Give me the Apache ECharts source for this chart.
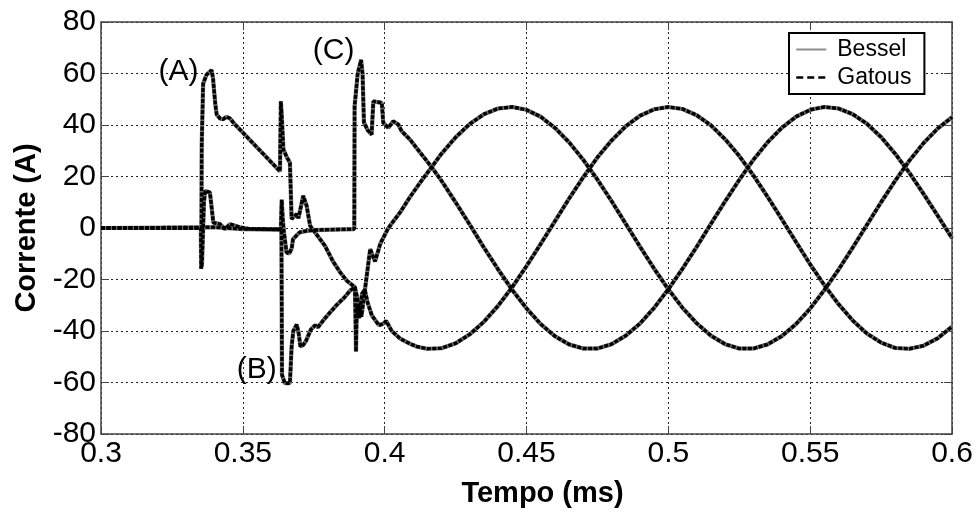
<!DOCTYPE html>
<html>
<head>
<meta charset="utf-8">
<script src="https://cdn.jsdelivr.net/npm/echarts@6/dist/echarts.min.js"></script>
<style>html,body{margin:0;padding:0;background:#fff}#c{width:979px;height:513px}</style>
</head>
<body>
<div id="c"></div>
<script>
// ---- tick labels ----
const xTickLabels = ['0.3','0.35','0.4','0.45','0.5','0.55','0.6'];
const yTickLabels = ['-80','-60','-40','-20','0','20','40','60','80'];

// ---- annotations [t, i, text] ----
const annotations = [[0.3273, 60.5, '(A)'], [0.3549, -54.9, '(B)'], [0.3820, 68.8, '(C)']];

// ---- transient part, phase A ----
const tA = [0.3000,0.3354,0.3355,0.3358,0.3360,0.3372,0.3390,0.3395,0.3403,0.3408,0.3420,0.3430,0.3443,0.3455,0.3470,
  0.3631,0.3634,0.3637,0.3643,0.3655,0.3666,0.3672,0.3690,0.3696,0.3713,0.3725,0.3737,0.3760,0.3790,0.3818,0.3845,0.3866,
  0.3895,0.3897,0.3899,0.3902,0.3910,0.3920,0.3930,0.3940,0.3955,0.3980,0.3998,0.4005,0.4025,0.4055,0.4090,0.4115,0.4150];
const iA = [0,0,31.7,32,56,59.5,61.3,58,48,44,42.5,42.2,43.2,42.5,40.5,
  22,49.2,44,30.5,27.5,25.4,3.5,5.4,3.8,12.5,8.6,0.9,-2.5,-7,-13,-17.5,-20.4,
  -23,-35,-48,-30,-35,-25.5,-24,-29,-34,-37.8,-37,-36,-40,-43,-45,-46.1,-46.9];

// ---- transient part, phase B ----
const tB = [0.3000,0.3400,0.3500,0.3636,0.3638,0.3648,0.3666,0.3672,0.3678,0.3690,0.3697,0.3703,0.3712,0.3722,0.3740,
  0.3755,0.3765,0.3790,0.3830,0.3858,0.3878,0.3895,0.3905,0.3918,0.3949,0.3966,0.3985,0.4011,0.4030,0.4054,0.4089,0.4124,0.4166];
const iB = [0,0.3,-0.4,-0.6,-57,-60.3,-60.3,-46,-40,-37.5,-41,-46,-45.5,-44,-39.4,
  -37.8,-38.5,-35,-30,-27,-24.3,-23,-28,-34.5,-8.2,-13,-6,-0.4,2.5,6,12,17.5,23.7];

// ---- transient part, phase C ----
const tC = [0.3000,0.3352,0.3353,0.3356,0.3363,0.3367,0.3384,0.3396,0.3420,0.3437,0.3455,0.3490,0.3520,0.3634,0.3637,
  0.3641,0.3645,0.3654,0.3663,0.3672,0.3677,0.3700,0.3720,0.3750,0.3893,0.3894,0.3905,0.3917,0.3922,0.3927,0.3940,
  0.3954,0.3960,0.3990,0.3995,0.4013,0.4030,0.4048,0.4060,0.4089,0.4125,0.4166];
const iC = [0,0,-15.8,-14,10,14.4,13.8,2.1,1.5,-0.4,1.5,0.3,-0.3,-0.5,11,
  3,-1.7,-9.4,-10,-8,-4.3,-1.7,-1.2,-0.8,-0.4,47.3,60,65.3,60,41,38,
  36.3,49.2,48.6,40.9,38.9,41.5,40.2,37.6,34.4,29.3,23.6];

// ---- steady state part ----
const tSteady = [0.420,0.425,0.430,0.435,0.440,0.445,0.450,0.455,0.460,0.465,0.470,0.475,0.480,0.485,0.490,0.495,
  0.500,0.505,0.510,0.515,0.520,0.525,0.530,0.535,0.540,0.545,0.550,0.555,0.560,0.565,0.570,0.575,0.580,0.585,0.590,0.595,0.600];
const aSteady = [-46.7,-44.8,-41.3,-36.4,-30.2,-22.9,-14.8,-6.2,2.6,11.4,19.7,27.4,34.0,39.5,43.6,46.1,
  47.0,46.2,43.8,39.9,34.5,28.0,20.4,12.1,3.4,-5.4,-14.1,-22.2,-29.6,-35.9,-41.0,-44.5,-46.6,-46.9,-45.7,-42.8,-38.3];
const bSteady = [28.8,35.2,40.4,44.2,46.4,47.0,45.9,43.2,38.9,33.3,26.5,18.8,10.4,1.6,-7.2,-15.8,
  -23.8,-31.0,-37.0,-41.8,-45.1,-46.8,-46.8,-45.2,-42.0,-37.3,-31.3,-24.1,-16.2,-7.6,1.2,10.0,18.4,26.2,33.0,38.7,43.0];
const cSteady = [18.4,10.0,1.3,-7.6,-16.1,-24.1,-31.2,-37.3,-42.0,-45.2,-46.8,-46.8,-45.1,-41.8,-37.1,-31.0,
  -23.8,-15.8,-7.3,1.6,10.3,18.7,26.5,33.3,38.9,43.2,45.9,47.0,46.4,44.2,40.5,35.3,28.8,21.4,13.2,4.7,-3.9];

function pairs(t, v) { return t.map((x, i) => [x, v[i]]); }
const phases = [
  pairs(tA.concat(tSteady), iA.concat(aSteady)),
  pairs(tB.concat(tSteady), iB.concat(bSteady)),
  pairs(tC.concat(tSteady), iC.concat(cSteady))
];

const FONT = 'Liberation Sans, Arial, sans-serif';
const series = [];
phases.forEach(d => series.push({
  name: 'Bessel', type: 'line', data: d, symbol: 'none', z: 2,
  lineStyle: { color: '#6e6e6e', width: 4.2 }, itemStyle: { color: '#6e6e6e' }
}));
phases.forEach(d => series.push({
  name: 'Gatous', type: 'line', data: d, symbol: 'none', z: 3,
  lineStyle: { color: '#000', width: 3.4, type: [4, 1.5] }, itemStyle: { color: '#000' }
}));
series.push({
  type: 'scatter', data: annotations, symbolSize: 0, z: 5, silent: true,
  itemStyle: { color: '#000', opacity: 1 },
  label: { show: true, position: 'inside', formatter: p => p.data[2], fontSize: 30, fontFamily: FONT,
    color: '#000', textBorderWidth: 0, textBorderColor: 'transparent' }
});

const axisLineStyle = { color: '#444', width: 1.5 };
const chart = echarts.init(document.getElementById('c'), null, { renderer: 'canvas' });
chart.setOption({
  animation: false,
  backgroundColor: '#fff',
  grid: { left: 101, right: 27, top: 22, bottom: 77 },
  legend: {
    left: 789, top: 33, orient: 'vertical',
    padding: [5, 13, 5, 6], itemGap: 5, itemWidth: 30, itemHeight: 14,
    borderColor: '#000', borderWidth: 2, backgroundColor: '#fff',
    itemStyle: { opacity: 0 },
    textStyle: { fontSize: 23, fontFamily: FONT, color: '#000', padding: [0, 0, 0, 6] },
    data: [
      { name: 'Bessel', lineStyle: { width: 2, color: '#8c8c8c', type: 'solid' } },
      { name: 'Gatous', lineStyle: { width: 2.5, color: '#000', type: [7, 4] } }
    ]
  },
  xAxis: [{
    type: 'value', min: 0.3, max: 0.6, interval: 0.05, position: 'bottom',
    axisLine: { show: true, onZero: false, lineStyle: axisLineStyle },
    axisTick: { show: true, inside: true, length: 8, lineStyle: { color: '#444' } },
    axisLabel: { color: '#000', fontSize: 30, fontFamily: FONT, margin: 5,
      formatter: (v, i) => xTickLabels[i] },
    splitLine: { show: true, lineStyle: { color: '#222', type: [2, 3], width: 1 } },
    name: 'Tempo (ms)', nameLocation: 'middle', nameGap: 45,
    nameTextStyle: { fontSize: 29, fontWeight: 'bold', fontFamily: FONT, color: '#000', padding: [0, 0, 0, 32] }
  }, {
    type: 'value', min: 0.3, max: 0.6, interval: 0.05, position: 'top',
    axisLine: { show: true, onZero: false, lineStyle: axisLineStyle },
    axisTick: { show: true, inside: true, length: 8, lineStyle: { color: '#444' } },
    axisLabel: { show: false }, splitLine: { show: false }
  }],
  yAxis: [{
    type: 'value', min: -80, max: 80, interval: 20, position: 'left',
    axisLine: { show: true, onZero: false, lineStyle: axisLineStyle },
    axisTick: { show: true, inside: true, length: 8, lineStyle: { color: '#444' } },
    axisLabel: { color: '#000', fontSize: 30, fontFamily: FONT, margin: 5,
      formatter: (v, i) => yTickLabels[i] },
    splitLine: { show: true, lineStyle: { color: '#222', type: [2, 3], width: 1 } },
    name: 'Corrente (A)', nameLocation: 'middle', nameGap: 58,
    nameTextStyle: { fontSize: 29, fontWeight: 'bold', fontFamily: FONT, color: '#000' }
  }, {
    type: 'value', min: -80, max: 80, interval: 20, position: 'right',
    axisLine: { show: true, onZero: false, lineStyle: axisLineStyle },
    axisTick: { show: true, inside: true, length: 8, lineStyle: { color: '#444' } },
    axisLabel: { show: false }, splitLine: { show: false }
  }],
  series: series
});
</script>
</body>
</html>
